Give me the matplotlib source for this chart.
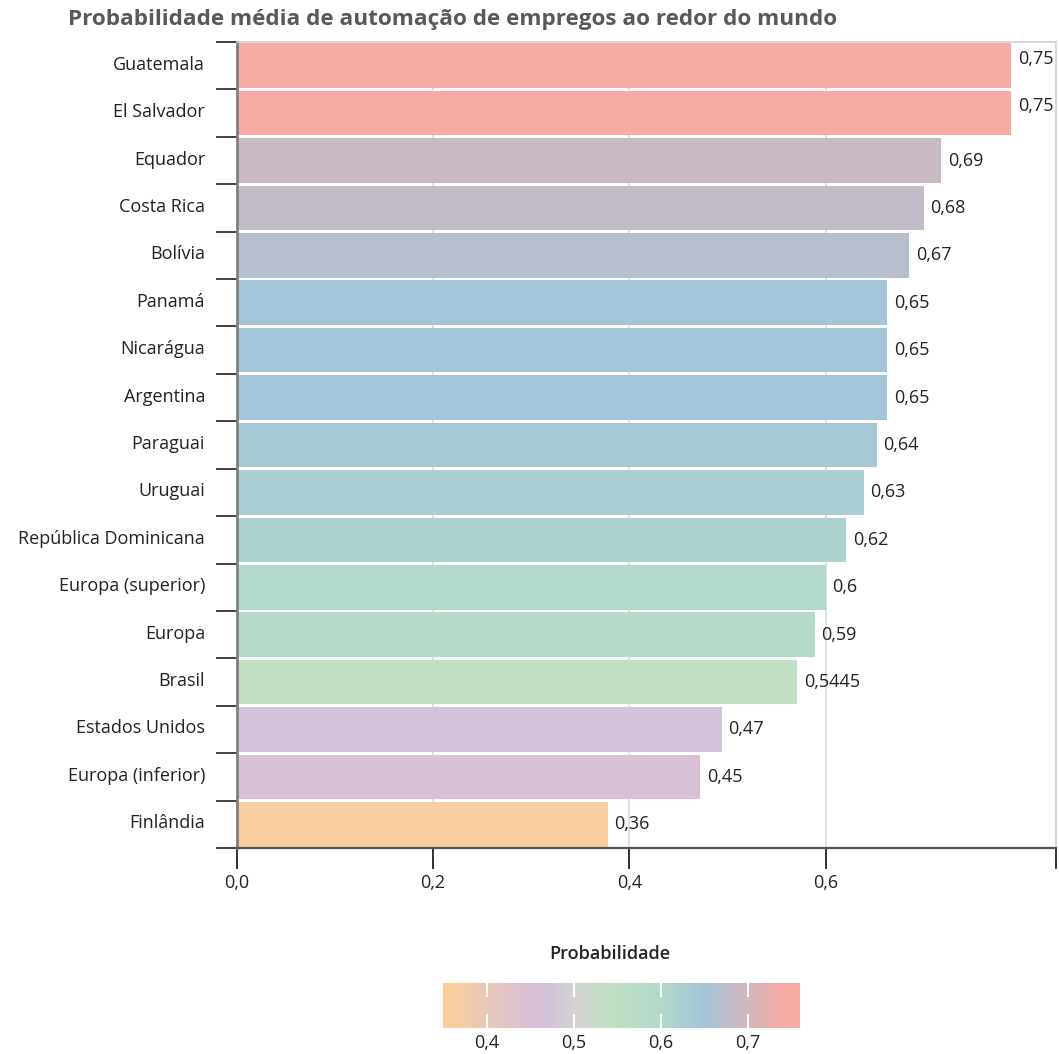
import numpy as np
import matplotlib
matplotlib.use("Agg")
import matplotlib.pyplot as plt
from matplotlib.colors import LinearSegmentedColormap, Normalize
from matplotlib.transforms import ScaledTranslation

plt.rcParams["font.family"] = ["Open Sans", "DejaVu Sans"]

paises = ["Guatemala", "El Salvador", "Equador", "Costa Rica", "Bolívia", "Panamá",
          "Nicarágua", "Argentina", "Paraguai", "Uruguai", "República Dominicana",
          "Europa (superior)", "Europa", "Brasil", "Estados Unidos",
          "Europa (inferior)", "Finlândia"]
# value printed next to each bar (also drives the colour)
probabilidade = [0.75, 0.75, 0.69, 0.68, 0.67, 0.65, 0.65, 0.65, 0.64, 0.63, 0.62,
                 0.6, 0.59, 0.5445, 0.47, 0.45, 0.36]
# bar length as read against the x axis (does not match the labels in the original)
comprimento = [0.789, 0.789, 0.718, 0.700, 0.685, 0.663, 0.663, 0.663, 0.652, 0.639,
               0.621, 0.600, 0.589, 0.571, 0.494, 0.472, 0.378]
eixo_ticks = [0.0, 0.2, 0.4, 0.6]
cbar_ticks = [0.4, 0.5, 0.6, 0.7]

cmap = LinearSegmentedColormap.from_list("prob", [
    (0.0, "#fdd09a"), (0.244, "#d8c0d7"), (0.293, "#d2c3da"), (0.366, "#d3d3d3"),
    (0.474, "#c1e0c3"), (0.61, "#b3d9cc"), (0.659, "#acd2d0"), (0.732, "#a5c5da"),
    (0.96, "#f8aaa5"), (1.0, "#f8aaa5")])
norm = Normalize(0.35, 0.76)

fig = plt.figure(figsize=(10.59, 10.54), dpi=100)
ax = fig.add_axes([237 / 1059, 1 - 848 / 1054, (1056 - 237) / 1059, (848 - 42) / 1054])

y = np.arange(len(paises))
cores = [cmap(norm(v)) for v in probabilidade]
ax.barh(y, comprimento, height=0.94, color=cores, zorder=2)
xmax = 0.835
for yi, c, v in zip(y, comprimento, probabilidade):
    dy = -0.15 if c > 0.77 else 0.0  # labels near the frame get nudged up
    ax.text(c + 0.007, yi + dy, str(v).replace(".", ","), va="center", ha="left",
            fontsize=13, color="#222222", zorder=3)

ax.set_xlim(0, xmax)
ax.set_ylim(len(paises) - 0.5, -0.5)

ax.set_yticks(y)
ax.set_yticklabels(paises, fontsize=13, color="#222222")
ax.set_yticks(np.arange(len(paises) + 1) - 0.5, minor=True)
ax.tick_params(axis="y", which="major", length=0, pad=23)
ax.tick_params(axis="y", which="minor", length=15, width=1.3, color="#333333")
shift = ScaledTranslation(0, 3 / 100, fig.dpi_scale_trans)
for lab in ax.get_yticklabels():
    lab.set_transform(lab.get_transform() + shift)

ax.set_xticks(eixo_ticks + [xmax])
ax.set_xticklabels([f"{t:.1f}".replace(".", ",") for t in eixo_ticks] + [""],
                   fontsize=13, color="#222222")
ax.tick_params(axis="x", length=15, width=1.3, color="#222222", pad=4)
for t in eixo_ticks[1:]:
    ax.axvline(t, color="#dadada", lw=1.2, zorder=1)

for s in ["top", "right"]:
    ax.spines[s].set_color("#d0d0d0")
    ax.spines[s].set_linewidth(1.2)
ax.spines["left"].set_color("#808080")
ax.spines["left"].set_linewidth(2)
ax.spines["bottom"].set_color("#555555")
ax.spines["bottom"].set_linewidth(1.6)

fig.text(68 / 1059, 1 - 20 / 1054, "Probabilidade média de automação de empregos ao redor do mundo",
         fontsize=16.2, fontweight="bold", color="#595959", va="center", ha="left")

# legenda de cores
cax = fig.add_axes([443 / 1059, 1 - 1028 / 1054, 357 / 1059, 45 / 1054])
grad = np.linspace(0.35, 0.76, 400)[None, :]
cax.imshow(grad, cmap=cmap, norm=norm, aspect="auto", extent=[0.35, 0.76, 0, 1])
cax.set_xlim(0.35, 0.76)
cax.set_yticks([])
cax.set_xticks(cbar_ticks)
cax.set_xticklabels([f"{t:.1f}".replace(".", ",") for t in cbar_ticks], fontsize=13,
                    color="#222222")
cax.tick_params(axis="x", direction="in", top=True, bottom=True, length=10, width=1.5,
                color="white", pad=4)
for s in cax.spines.values():
    s.set_visible(False)
fig.text(610 / 1059, 1 - 954 / 1054, "Probabilidade", fontsize=13, fontweight="semibold",
         color="#222222", ha="center", va="center")

fig.savefig("out.png", dpi=100)
